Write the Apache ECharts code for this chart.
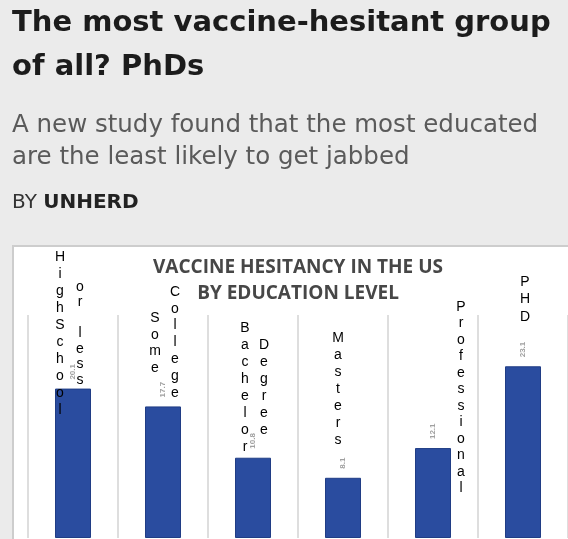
<!DOCTYPE html>
<html>
<head>
<meta charset="utf-8">
<script src="https://cdn.jsdelivr.net/npm/echarts@6/dist/echarts.min.js"></script>
<style>
  html, body { margin: 0; padding: 0; background: #ebebeb; }
  #chart { width: 568px; height: 539px; }
</style>
</head>
<body>
<div id="chart"></div>
<script>
// data
const categories = ['High School or less', 'Some College', 'Bachelor Degree', 'Masters', 'Professional', 'PHD']
const hesitancy = [20.1, 17.7, 10.8, 8.1, 12.1, 23.1]
// the stacked letter columns drawn above / beside each bar
const labelColumns = [['HighSchool', 'or less'], ['Some', 'College'], ['Bachelor', 'Degree'], ['Masters'], ['Professional'], ['PHD']]
// per column: [dx from bar centre, centre y of first letter, line height]
const labelLayout = [
	[[-13, 257, 17], [7, 287, 15.5]],
	[[-8, 318, 16.7], [12, 292, 16.8]],
	[[-8, 328, 17], [11, 345, 17]],
	[[-5, 338, 17]],
	[[28, 307, 16.5]],
	[[2, 282, 17.5]]
]

let myChart = echarts.init(document.getElementById('chart'))

let option = {
	backgroundColor: '#ebebeb',
	animation: false,
	grid: { left: 28, right: 0, top: 315, bottom: 1 },
	xAxis: {
		type: 'category',
		data: categories,
		boundaryGap: true,
		axisLine: { show: false },
		axisTick: { show: false },
		axisLabel: { show: false },
		splitLine: { show: true, interval: 0, lineStyle: { color: '#dedede', width: 2 } }
	},
	yAxis: {
		type: 'value',
		min: 0,
		max: 30,
		axisLine: { show: false },
		axisTick: { show: false },
		axisLabel: { show: false },
		splitLine: { show: false }
	},
	series: [{
		type: 'bar',
		data: hesitancy,
		barWidth: 36,
		itemStyle: { color: '#2a4c9f', borderColor: '#203d85', borderWidth: 1 },
		label: {
			show: true,
			position: 'top',
			distance: 9,
			rotate: 90,
			align: 'left',
			verticalAlign: 'middle',
			fontSize: 8,
			fontWeight: 'bold',
			color: '#a0a0a0',
			formatter: '{c}'
		}
	}],
	graphic: [
		{
			type: 'rect', z: -1, silent: true,
			shape: { x: 13, y: 246, width: 560, height: 300 },
			style: { fill: '#ffffff', stroke: '#cdcdcd', lineWidth: 2 }
		},
		{
			type: 'text', x: 12, y: 1,
			style: {
				text: 'The most vaccine-hesitant group\nof all? PhDs',
				font: 'bold 29px "DejaVu Sans"', fill: '#1c1c1c', lineHeight: 44
			}
		},
		{
			type: 'text', x: 12, y: 110,
			style: {
				text: 'A new study found that the most educated\nare the least likely to get jabbed',
				font: '24.5px "DejaVu Sans"', fill: '#5a5a5a', lineHeight: 32
			}
		},
		{
			type: 'text', x: 12, y: 191,
			style: {
				text: '{a|BY }{b|UNHERD}',
				rich: {
					a: { font: '20px "DejaVu Sans"', fill: '#333333', lineHeight: 24 },
					b: { font: 'bold 20px "DejaVu Sans"', fill: '#222222', lineHeight: 24 }
				}
			}
		},
		{
			type: 'text', x: 298, y: 255,
			style: {
				text: 'VACCINE HESITANCY IN THE US\nBY EDUCATION LEVEL',
				font: 'bold 19px "Open Sans"', fill: '#474747', lineHeight: 26, align: 'center'
			}
		}
	]
}
myChart.setOption(option)

// letter columns, placed from each bar's centre on the category axis
let letters = []
for (let i in labelColumns) {
	let cx = myChart.convertToPixel({ xAxisIndex: 0 }, categories[i])
	labelColumns[i].forEach(function (word, j) {
		let l = labelLayout[i][j]
		letters.push({
			type: 'text', z: 100,
			x: cx + l[0],
			y: l[1] - l[2] / 2,
			style: {
				text: word.split('').join('\n'),
				font: '14px "Liberation Sans"',
				fill: '#000000',
				lineHeight: l[2],
				align: 'center',
				verticalAlign: 'top'
			}
		})
	})
}
myChart.setOption({ graphic: option.graphic.concat(letters) })
</script>
</body>
</html>
